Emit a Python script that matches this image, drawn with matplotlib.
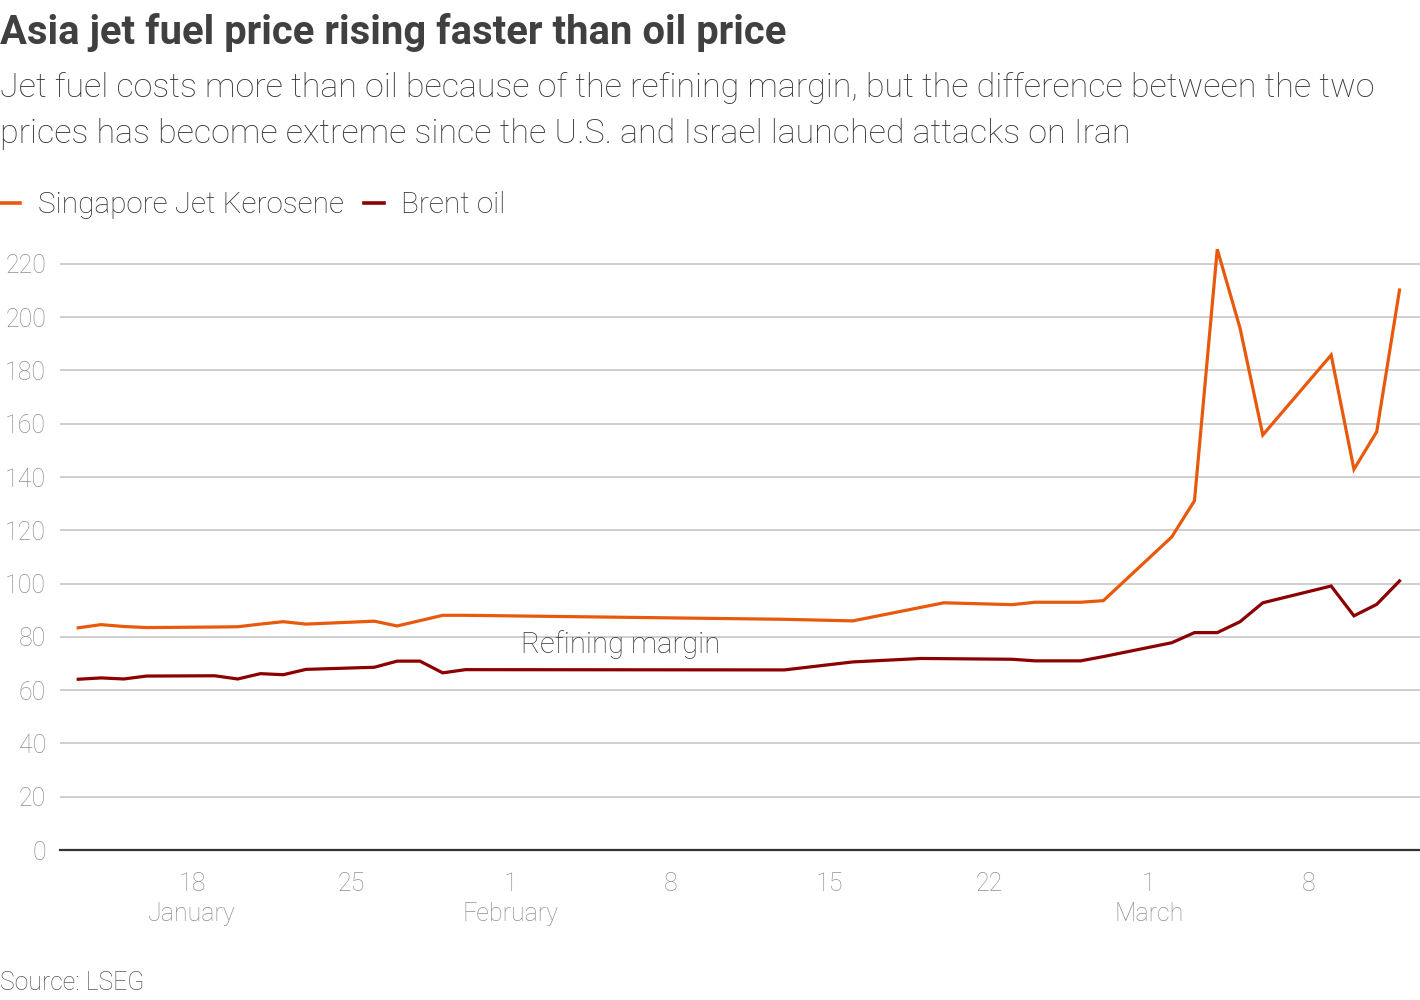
import matplotlib.pyplot as plt
import matplotlib.dates as mdates
import numpy as np
from datetime import date

plt.rcParams['font.family'] = ['Roboto', 'DejaVu Sans']

# data (USD per barrel)
jet_dates = ["2026-01-13", "2026-01-14", "2026-01-15", "2026-01-16", "2026-01-19",
             "2026-01-20", "2026-01-21", "2026-01-22", "2026-01-23", "2026-01-26",
             "2026-01-27", "2026-01-29", "2026-01-30", "2026-02-13", "2026-02-16",
             "2026-02-20", "2026-02-23", "2026-02-24", "2026-02-26", "2026-02-27",
             "2026-03-02", "2026-03-03", "2026-03-04", "2026-03-05", "2026-03-06",
             "2026-03-09", "2026-03-10", "2026-03-11", "2026-03-12"]
jet_price = [83.4, 84.6, 83.9, 83.5, 83.7, 83.8, 84.8, 85.7, 84.8, 85.9,
             84.1, 88.1, 88.1, 86.6, 86.0, 92.8, 92.1, 93.0, 93.0, 93.6,
             117.5, 131.1, 225.5, 195.9, 155.8, 185.8, 142.9, 157.0, 210.2]

brent_dates = ["2026-01-13", "2026-01-14", "2026-01-15", "2026-01-16", "2026-01-19",
               "2026-01-20", "2026-01-21", "2026-01-22", "2026-01-23", "2026-01-26",
               "2026-01-27", "2026-01-28", "2026-01-29", "2026-01-30", "2026-02-13",
               "2026-02-16", "2026-02-19", "2026-02-23", "2026-02-24", "2026-02-26",
               "2026-02-27", "2026-03-02", "2026-03-03", "2026-03-04", "2026-03-05",
               "2026-03-06", "2026-03-09", "2026-03-10", "2026-03-11", "2026-03-12"]
brent_price = [64.1, 64.6, 64.2, 65.3, 65.4, 64.2, 66.2, 65.8, 67.8, 68.6,
               70.9, 70.9, 66.5, 67.7, 67.6, 70.6, 71.9, 71.6, 71.0, 71.0,
               72.6, 77.8, 81.6, 81.6, 85.7, 92.8, 99.1, 87.9, 92.2, 101.0]

y_ticks = [0, 20, 40, 60, 80, 100, 120, 140, 160, 180, 200, 220]
x_ticks = ["2026-01-18", "2026-01-25", "2026-02-01", "2026-02-08", "2026-02-15",
           "2026-02-22", "2026-03-01", "2026-03-08"]
x_labels = ["18\nJanuary", "25", "1\nFebruary", "8", "15", "22", "1\nMarch", "8"]

JET = "#e8590c"
BRENT = "#8b0000"
TEXT = "#404040"
GREY = "#8f8f8f"

fig = plt.figure(figsize=(14.2, 10), dpi=100)
ax = fig.add_axes([60 / 1420, 0.15, 1 - 60 / 1420, 0.6127])

jd = mdates.datestr2num(jet_dates)
bd = mdates.datestr2num(brent_dates)
ax.plot(jd, jet_price, color=JET, lw=2.3, label="Singapore Jet Kerosene",
        solid_joinstyle="miter", zorder=3)
ax.plot(bd, brent_price, color=BRENT, lw=2.3, label="Brent oil",
        solid_joinstyle="miter", zorder=3)

ax.set_ylim(0, 230)
x0 = mdates.date2num(date(2026, 1, 18))
ax.set_xlim(x0 - 5.8, x0 + 53.9)

ax.set_yticks(y_ticks)
ax.set_yticklabels([str(v) for v in y_ticks])
ax.set_xticks(mdates.datestr2num(x_ticks))
ax.set_xticklabels(x_labels, linespacing=1.3)
ax.tick_params(axis="both", length=0, labelsize=18, labelcolor=GREY)
ax.tick_params(axis="y", pad=10)
ax.tick_params(axis="x", pad=16)
for lab in ax.get_yticklabels() + ax.get_xticklabels():
    lab.set_fontweight("light")

ax.grid(axis="y", color="#cccccc", lw=1.3)
ax.set_axisbelow(True)
for s in ["top", "right", "left"]:
    ax.spines[s].set_visible(False)
ax.spines["bottom"].set_color("#333333")
ax.spines["bottom"].set_linewidth(1.6)
ax.spines["bottom"].set_zorder(4)

ax.text(mdates.date2num(date(2026, 2, 5)) + 0.8, 77.3, "Refining margin",
        fontsize=21, color="#3a3a3a", ha="center", va="center", fontweight="light")

fig.text(0, 0.968, "Asia jet fuel price rising faster than oil price",
         fontsize=28.8, fontweight="bold", color=TEXT, va="center", ha="left")
fig.text(0, 0.912, "Jet fuel costs more than oil because of the refining margin, but the difference between the two",
         fontsize=24.5, fontweight="light", color="#333333", va="center", ha="left")
fig.text(0, 0.866, "prices has become extreme since the U.S. and Israel launched attacks on Iran",
         fontsize=24.5, fontweight="light", color="#333333", va="center", ha="left")

leg = fig.legend(loc="center left", bbox_to_anchor=(0, 0.795), frameon=False, ncol=2,
                 fontsize=21.4, handlelength=0.67, handletextpad=0.6, columnspacing=0.67,
                 borderpad=0, borderaxespad=0)
for t in leg.get_texts():
    t.set_color("#2e2e2e")
    t.set_fontweight("light")
for h in leg.get_lines():
    h.set_linewidth(2.6)

fig.text(0, 0.017, "Source: LSEG", fontsize=17.9, fontweight="light", color="#555555",
         va="center", ha="left")

fig.savefig("out.png", dpi=100)
